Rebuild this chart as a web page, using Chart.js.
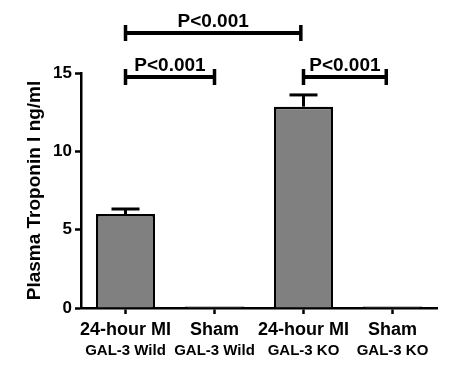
<!DOCTYPE html>
<html>
<head>
<meta charset="utf-8">
<script src="https://cdn.jsdelivr.net/npm/chart.js@4"></script>
<style>
  html, body { margin: 0; padding: 0; background: #fff; }
  #wrap { width: 458px; height: 378px; position: relative; }
</style>
</head>
<body>
<div id="wrap"><canvas id="c" width="458" height="378"></canvas></div>
<script>
// ---- data ----
const categories = ['24-hour MI', 'Sham', '24-hour MI', 'Sham'];
const groups = ['GAL-3 Wild', 'GAL-3 Wild', 'GAL-3 KO', 'GAL-3 KO'];
const means = [6.0, 0.1, 12.85, 0.1];
const sem = [0.32, 0, 0.75, 0];
const yTicks = [0, 5, 10, 15];
const bracketFrom = [0, 0, 2];
const bracketTo = [1.97, 1, 2.93];
const bracketLevel = [17.55, 14.74, 14.74];
const bracketText = ['P<0.001', 'P<0.001', 'P<0.001'];

const FONT = "'Liberation Sans', Arial, Helvetica, sans-serif";

const annotate = {
  id: 'annotate',
  afterDraw(chart) {
    const ctx = chart.ctx;
    const x = chart.scales.x, y = chart.scales.y;
    const meta = chart.getDatasetMeta(0);
    ctx.save();
    ctx.strokeStyle = '#000';
    ctx.fillStyle = '#000';
    // error bars (upper only)
    ctx.lineWidth = 3;
    ctx.lineCap = 'butt';
    meta.data.forEach((bar, i) => {
      if (!sem[i]) return;
      const cx = bar.x;
      const top = y.getPixelForValue(means[i]);
      const et = y.getPixelForValue(means[i] + sem[i]);
      ctx.beginPath();
      ctx.moveTo(cx, top);
      ctx.lineTo(cx, et);
      ctx.stroke();
      ctx.beginPath();
      ctx.moveTo(cx - 14, et);
      ctx.lineTo(cx + 14, et);
      ctx.stroke();
    });
    // significance brackets
    ctx.font = 'bold 19px ' + FONT;
    ctx.textAlign = 'center';
    ctx.textBaseline = 'middle';
    bracketFrom.forEach((f, i) => {
      const x1 = x.getPixelForValue(f);
      const x2 = x.getPixelForValue(bracketTo[i]);
      const yy = y.getPixelForValue(bracketLevel[i]);
      ctx.lineWidth = 4;
      ctx.beginPath();
      ctx.moveTo(x1, yy);
      ctx.lineTo(x2, yy);
      ctx.stroke();
      ctx.lineWidth = 3.5;
      ctx.beginPath();
      ctx.moveTo(x1, yy - 8);
      ctx.lineTo(x1, yy + 8);
      ctx.moveTo(x2, yy - 8);
      ctx.lineTo(x2, yy + 8);
      ctx.stroke();
      ctx.fillText(bracketText[i], (x1 + x2) / 2, yy - 11);
    });
    ctx.restore();
  }
};

new Chart(document.getElementById('c'), {
  type: 'bar',
  data: {
    labels: categories,
    datasets: [{
      data: means,
      backgroundColor: '#808080',
      borderColor: '#000',
      borderWidth: 2.5,
      barPercentage: 0.663,
      categoryPercentage: 1.0
    }]
  },
  options: {
    responsive: false,
    animation: false,
    devicePixelRatio: 1,
    layout: { padding: { top: 73, right: 21, left: 0, bottom: 0 } },
    plugins: { legend: { display: false }, tooltip: { enabled: false } },
    scales: {
      x: {
        offset: true,
        border: { color: '#000', width: 2.5 },
        grid: { offset: false, drawOnChartArea: false, drawTicks: true, tickLength: 6, tickWidth: 2.5, tickColor: '#000' },
        ticks: { color: '#000', padding: 5, maxRotation: 0, autoSkip: false, font: { family: FONT, size: 18, weight: 'bold' } },
        afterFit(s) { s.height = 34; }
      },
      x2: {
        type: 'category',
        labels: groups,
        position: 'bottom',
        offset: true,
        border: { display: false },
        grid: { display: false, drawTicks: false },
        ticks: { color: '#000', padding: 0, maxRotation: 0, autoSkip: false, font: { family: FONT, size: 15, weight: 'bold' } },
        afterFit(s) { s.height = 36; }
      },
      y: {
        min: 0, max: 15,
        afterBuildTicks(s) { s.ticks = yTicks.map(v => ({ value: v })); },
        border: { color: '#000', width: 2.5 },
        grid: { drawOnChartArea: false, drawTicks: true, tickLength: 6, tickWidth: 2.5, tickColor: '#000' },
        ticks: { color: '#000', padding: 3, font: { family: FONT, size: 17, weight: 'bold' } },
        title: { display: true, text: 'Plasma Troponin I ng/ml', color: '#000', padding: { top: 23, bottom: 0 }, font: { family: FONT, size: 19, weight: 'bold' } },
        afterFit(s) { s.width = 81; }
      }
    }
  },
  plugins: [annotate]
});
</script>
</body>
</html>
